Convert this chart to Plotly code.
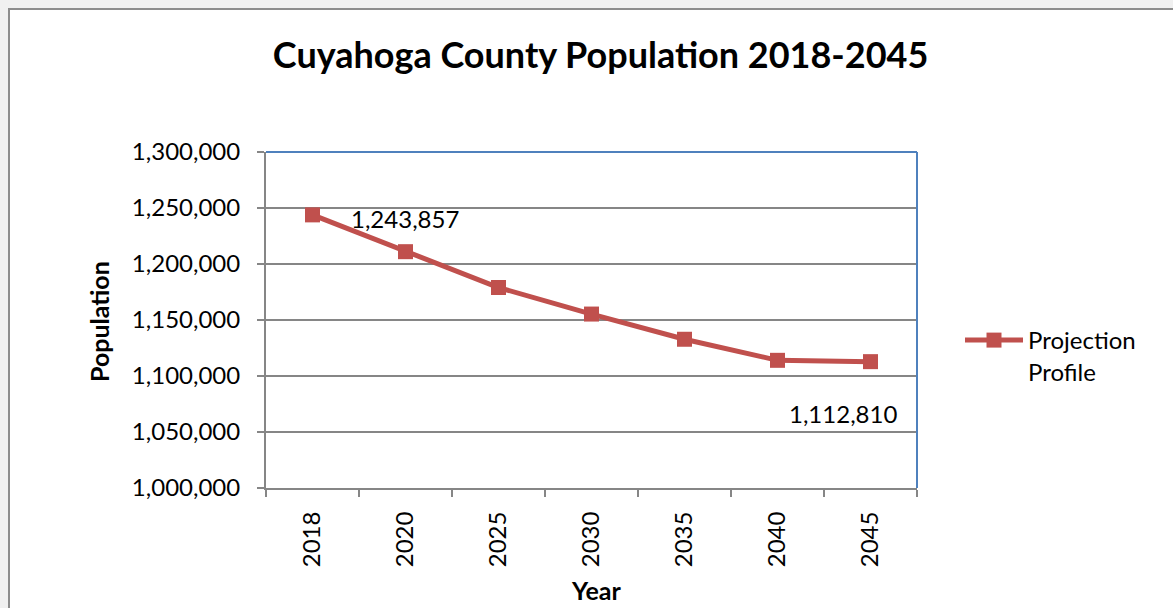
import plotly.graph_objects as go

# Cuyahoga County population projection
years = ["2018", "2020", "2025", "2030", "2035", "2040", "2045"]
population = [1243857, 1211000, 1179000, 1155300, 1132800, 1114000, 1112810]
y_ticks = [1000000, 1050000, 1100000, 1150000, 1200000, 1250000, 1300000]
series_name = "Projection<br>Profile"

W, H = 1173, 608
L, R, T, B = 266, 256, 152, 120
pw, ph = W - L - R, H - T - B

def px_x(px):
    return (px - L) / pw

def px_y(py):
    return (H - B - py) / ph

FONT = "Lato"
RED = "#c0504d"
GRID = "#868686"
BLUE = "#4f81bd"

# categories are laid out at integer slots; ticks sit on the slot boundaries
slots = list(range(len(years)))
boundaries = [i - 0.5 for i in range(len(years) + 1)]

fig = go.Figure()
fig.add_trace(go.Scatter(
    x=slots, y=population, name=series_name, mode="lines+markers",
    line=dict(color=RED, width=5),
    marker=dict(symbol="square", size=15, color=RED),
))

# value labels on first and last points
fig.add_annotation(x=slots[0], y=population[0], text=f"{population[0]:,}",
                   showarrow=False, xanchor="left", yanchor="middle",
                   xshift=36, yshift=-4, font=dict(family=FONT, size=24, color="#000"))
fig.add_annotation(x=slots[-1], y=population[-1], text=f"{population[-1]:,}",
                   showarrow=False, xanchor="right", yanchor="middle",
                   xshift=28, yshift=-52, font=dict(family=FONT, size=24, color="#000"))

# axis titles
fig.add_annotation(xref="paper", yref="paper", x=px_x(596), y=px_y(590), text="<b>Year</b>",
                   xanchor="center", yanchor="middle",
                   showarrow=False, font=dict(family=FONT, size=25, color="#000"))
fig.add_annotation(xref="paper", yref="paper", x=px_x(99), y=px_y(322), text="<b>Population</b>",
                   xanchor="center", yanchor="middle",
                   textangle=-90, showarrow=False, font=dict(family=FONT, size=25, color="#000"))

# chart area frame and plot area top/right edges
fig.add_shape(type="rect", xref="paper", yref="paper", layer="below",
              x0=px_x(9), y0=px_y(700), x1=px_x(1300), y1=px_y(9),
              line=dict(color="#8c8c8c", width=2), fillcolor="white")
fig.add_shape(type="line", xref="paper", yref="paper", x0=0, x1=1, y0=1, y1=1,
              line=dict(color=BLUE, width=2))
fig.add_shape(type="line", xref="paper", yref="paper", x0=1, x1=1, y0=0, y1=1,
              line=dict(color=BLUE, width=2))

fig.update_layout(
    width=W, height=H,
    margin=dict(l=L, r=R, t=T, b=B),
    paper_bgcolor="#f0f0f0", plot_bgcolor="white",
    title=dict(text="<b>Cuyahoga County Population 2018-2045</b>",
               x=0.512, xref="container", xanchor="center",
               y=1 - 55 / H, yref="container", yanchor="middle",
               font=dict(family=FONT, size=36, color="#000")),
    legend=dict(x=px_x(960), y=px_y(318), xanchor="left", yanchor="top",
                valign="top",
                font=dict(family=FONT, size=24, color="#000"),
                bgcolor="rgba(0,0,0,0)", itemwidth=58),
    showlegend=True,
)
fig.update_xaxes(range=[-0.5, len(years) - 0.5], tickvals=slots, ticktext=years,
                 ticks="", showline=True, linecolor=GRID, linewidth=2,
                 showgrid=False, zeroline=False, tickangle=-90, ticklabelstandoff=12,
                 minor=dict(tickvals=boundaries, ticks="outside", ticklen=7,
                            tickcolor=GRID, tickwidth=2, showgrid=False),
                 tickfont=dict(family=FONT, size=24, color="#000"))
fig.update_yaxes(range=[1000000, 1300000], tickvals=y_ticks,
                 ticktext=[f"{v:,}" for v in y_ticks], ticks="outside", ticklen=7,
                 tickcolor=GRID, tickwidth=2, showline=True, linecolor=GRID, linewidth=2,
                 showgrid=True, gridcolor=GRID, gridwidth=2, zeroline=False,
                 ticklabelstandoff=12,
                 tickfont=dict(family=FONT, size=24, color="#000"))

fig.write_html("out.html")
